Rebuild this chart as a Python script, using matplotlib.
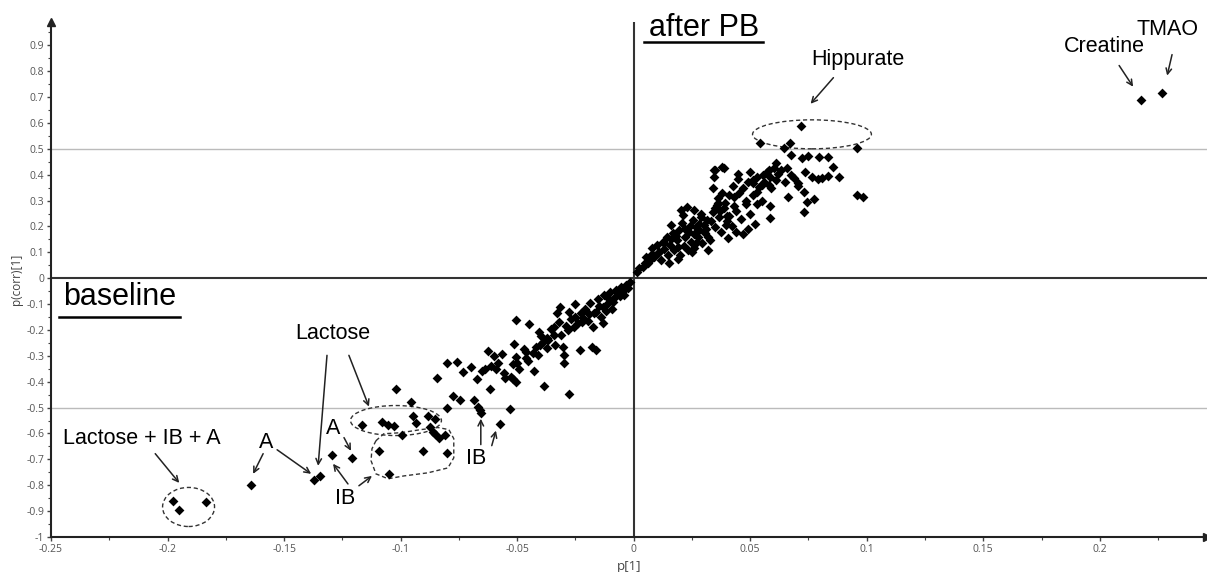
import matplotlib
matplotlib.use('Agg')
import matplotlib.pyplot as plt
from matplotlib.patches import Ellipse, Polygon
from matplotlib.ticker import MultipleLocator, FuncFormatter

# S-plot loadings: p[1] vs p(corr)[1]
p1 = [
    -0.1976, -0.195, -0.1835, -0.164, -0.137, -0.1346, -0.1294, -0.121,
    -0.1166, -0.108, -0.1054, -0.1029, -0.0994, -0.0947, -0.0934, -0.0883,
    -0.0853, -0.0874, -0.0862, -0.0853, -0.0836, -0.081,
    -0.1093, -0.0904, -0.0801, -0.105,
    -0.102, -0.0956, -0.0776, -0.0746, -0.08, -0.0686, -0.0669, -0.066,
    -0.0656, -0.0574, -0.0617, -0.0531, -0.0506,
    -0.0844, -0.0801, -0.0759, -0.0733, -0.0699, -0.0673, -0.0652, -0.0626,
    -0.0639, -0.0613, -0.06, -0.0591, -0.0583, -0.0566, -0.0557, -0.0553,
    -0.0527, -0.0519, -0.0514, -0.0506, -0.0506, -0.0501, -0.0471, -0.0463,
    -0.0454, -0.045, -0.0429, -0.042, -0.0411, -0.0407, -0.0399, -0.039,
    -0.0386, -0.0373, -0.0369, -0.0356, -0.0343, -0.0339, -0.033, -0.0321,
    -0.0317, -0.0304, -0.03, -0.03, -0.0291, -0.0279, -0.0279, -0.027,
    -0.0257, -0.0253, -0.024, -0.0231, -0.0227, -0.0219, -0.021, -0.0197,
    -0.0189, -0.018, -0.0176, -0.0171, -0.0163, -0.0154, -0.015, -0.0141,
    -0.0133, -0.0129, -0.012, -0.0111, -0.0103, -0.0094, -0.0086, -0.0077,
    -0.0069, -0.0056, -0.0043, -0.0034, -0.0026, -0.0017,
    -0.004, -0.006, -0.009, -0.011, -0.013, -0.016, -0.019, -0.022, -0.025,
    -0.028, -0.031, -0.034, -0.037, -0.04, -0.043, -0.046, -0.049, -0.052,
    0.0013, 0.0021, 0.0039, 0.0051, 0.006, 0.0069, 0.0077, 0.0086, 0.0099,
    0.0103, 0.0116, 0.0124, 0.0129, 0.0141, 0.0146, 0.0154, 0.0159, 0.0167,
    0.0171, 0.0184, 0.0189, 0.0193, 0.0201, 0.0206, 0.021, 0.0214, 0.0219,
    0.0227, 0.0231, 0.0236, 0.0244, 0.0253, 0.0257, 0.0257, 0.0266, 0.0274,
    0.0279, 0.0287, 0.0291, 0.03, 0.0304, 0.0313, 0.0321, 0.0326, 0.0339,
    0.0339, 0.0343, 0.0343, 0.0351, 0.036, 0.0364, 0.0373, 0.0381, 0.0386,
    0.0394, 0.0403,
    0.005, 0.008, 0.011, 0.013, 0.016, 0.018, 0.019, 0.022, 0.024, 0.026,
    0.028, 0.029, 0.031, 0.033, 0.035, 0.036, 0.037, 0.039, 0.041, 0.043,
    0.045, 0.047, 0.049, 0.051, 0.053, 0.055, 0.057, 0.059, 0.061, 0.063,
    0.065, 0.027, 0.032, 0.04, 0.044, 0.02, 0.015, 0.025,
    0.0544, 0.0669, 0.072, 0.0647, 0.096,
    0.0677, 0.0724, 0.0746, 0.0797, 0.0832, 0.0609, 0.0656, 0.06, 0.0857,
    0.0347, 0.0386, 0.0446, 0.0497, 0.0446, 0.051, 0.0553, 0.0579, 0.0587,
    0.0621, 0.0673, 0.069, 0.0733, 0.0763, 0.0789, 0.081, 0.0832, 0.0883,
    0.0514, 0.0536, 0.0561, 0.0579, 0.0703, 0.0707, 0.0424, 0.0531, 0.0729,
    0.0429, 0.066, 0.0742, 0.0772, 0.096, 0.0982, 0.0484, 0.0531, 0.0587,
    0.0587, 0.0729, 0.0356, 0.0411, 0.0489,
    0.044, 0.046, 0.048, 0.042, 0.05, 0.047, 0.052, 0.038, 0.040, 0.055,
    0.2177, 0.2267,
]
pcorr = [
    -0.86, -0.895, -0.864, -0.80, -0.78, -0.764, -0.682, -0.694,
    -0.566, -0.554, -0.566, -0.57, -0.605, -0.531, -0.558, -0.531,
    -0.543, -0.574, -0.593, -0.601, -0.616, -0.605,
    -0.667, -0.667, -0.674, -0.756,
    -0.43, -0.477, -0.457, -0.469, -0.5, -0.469, -0.496, -0.508,
    -0.519, -0.562, -0.43, -0.504, -0.40,
    -0.384, -0.329, -0.322, -0.364, -0.345, -0.388, -0.36, -0.283,
    -0.349, -0.341, -0.302, -0.349, -0.326, -0.291, -0.368, -0.384,
    -0.38, -0.391, -0.256, -0.163, -0.306, -0.326, -0.275, -0.287,
    -0.318, -0.178, -0.357, -0.264, -0.298, -0.209, -0.225, -0.248,
    -0.415, -0.271, -0.24, -0.198, -0.221, -0.26, -0.136, -0.171,
    -0.112, -0.267, -0.295, -0.329, -0.186, -0.446, -0.132, -0.159,
    -0.19, -0.101, -0.174, -0.279, -0.136, -0.155, -0.12, -0.167,
    -0.097, -0.267, -0.19, -0.136, -0.279, -0.081, -0.109, -0.151,
    -0.174, -0.066, -0.128, -0.097, -0.054, -0.12, -0.078, -0.047,
    -0.058, -0.035, -0.066, -0.027, -0.039, -0.016,
    -0.045, -0.07, -0.09, -0.075, -0.11, -0.13, -0.14, -0.17, -0.15,
    -0.2, -0.22, -0.19, -0.23, -0.26, -0.29, -0.31, -0.35, -0.33,
    0.023, 0.039, 0.043, 0.081, 0.058, 0.07, 0.116, 0.081, 0.128,
    0.097, 0.07, 0.14, 0.112, 0.159, 0.089, 0.128, 0.205, 0.174,
    0.108, 0.147, 0.074, 0.186, 0.264, 0.213, 0.244, 0.124, 0.159,
    0.275, 0.108, 0.178, 0.14, 0.225, 0.264, 0.116, 0.198, 0.159,
    0.186, 0.236, 0.136, 0.205, 0.174, 0.225, 0.108, 0.147, 0.256,
    0.349, 0.392, 0.419, 0.198, 0.291, 0.236, 0.178, 0.43, 0.271,
    0.205, 0.155,
    0.06, 0.095, 0.10, 0.135, 0.15, 0.165, 0.12, 0.19, 0.2, 0.17,
    0.21, 0.25, 0.19, 0.22, 0.27, 0.31, 0.26, 0.29, 0.32, 0.28,
    0.33, 0.35, 0.37, 0.32, 0.39, 0.36, 0.41, 0.35, 0.38, 0.42,
    0.37, 0.14, 0.16, 0.22, 0.18, 0.09, 0.06, 0.10,
    0.523, 0.523, 0.589, 0.504, 0.504,
    0.477, 0.465, 0.473, 0.469, 0.469, 0.446, 0.426, 0.426, 0.43,
    0.419, 0.426, 0.403, 0.411, 0.384, 0.38, 0.40, 0.419, 0.391,
    0.403, 0.40, 0.388, 0.411, 0.391, 0.384, 0.388, 0.395, 0.391,
    0.368, 0.353, 0.372, 0.36, 0.368, 0.357, 0.357, 0.333, 0.333,
    0.314, 0.314, 0.295, 0.306, 0.322, 0.314, 0.287, 0.287, 0.279,
    0.233, 0.256, 0.283, 0.24, 0.19,
    0.26, 0.23, 0.30, 0.20, 0.25, 0.17, 0.21, 0.33, 0.24, 0.30,
    0.69, 0.717,
]

x_ticks = [-0.25, -0.2, -0.15, -0.1, -0.05, 0, 0.05, 0.1, 0.15, 0.2]
y_ticks = [-1, -0.9, -0.8, -0.7, -0.6, -0.5, -0.4, -0.3, -0.2, -0.1,
           0, 0.1, 0.2, 0.3, 0.4, 0.5, 0.6, 0.7, 0.8, 0.9]

plt.rcParams['font.family'] = ['Liberation Sans', 'DejaVu Sans']

fig = plt.figure(figsize=(12.07, 5.72), dpi=100)
ax = fig.add_axes([0.0423, 0.0612, 0.9577, 0.9003])

ax.set_xlim(-0.25, 0.246)
ax.set_ylim(-1, 0.99)

# reference lines
ax.axhline(0.5, color='#bbbbbb', lw=1, zorder=1)
ax.axhline(-0.5, color='#bbbbbb', lw=1, zorder=1)
ax.axhline(0, color='#333333', lw=1.5, zorder=1)
ax.axvline(0, color='#333333', lw=1.5, zorder=1)

ax.scatter(p1, pcorr, marker='D', s=25, color='black', linewidths=0, zorder=3)

# spines / ticks
for s in ['top', 'right']:
    ax.spines[s].set_visible(False)
for s in ['left', 'bottom']:
    ax.spines[s].set_color('#222222')
    ax.spines[s].set_linewidth(1.5)
ax.plot([0], [1], marker='^', color='#222222', ms=6, transform=ax.transAxes, clip_on=False)
ax.plot([1], [0], marker='>', color='#222222', ms=6, transform=ax.transAxes, clip_on=False)

ax.set_xticks(x_ticks)
ax.set_yticks(y_ticks)
ax.xaxis.set_minor_locator(MultipleLocator(0.025))
ax.yaxis.set_minor_locator(MultipleLocator(0.05))
fmt = FuncFormatter(lambda v, _: f"{v:g}")
ax.xaxis.set_major_formatter(fmt)
ax.yaxis.set_major_formatter(fmt)
ax.tick_params(which='major', length=3, width=1, color='#444444',
               labelsize=7.5, labelcolor='#555555', pad=2)
ax.tick_params(which='minor', length=2, width=0.8, color='#444444')
for lab in ax.get_xticklabels() + ax.get_yticklabels():
    lab.set_family('Open Sans')
ax.set_xlabel('p[1]', fontsize=9.5, color='#444444', family='Open Sans', labelpad=4)
ax.set_ylabel('p(corr)[1]', fontsize=8.5, color='#444444', family='Open Sans', labelpad=2)

# big labels with underline
ax.text(0.030, 0.965, 'after PB', fontsize=22, ha='center', va='center')
ax.plot([0.0045, 0.0555], [0.912, 0.912], color='black', lw=1.8)
ax.text(-0.2207, -0.074, 'baseline', fontsize=22, ha='center', va='center')
ax.plot([-0.2465, -0.1945], [-0.148, -0.148], color='black', lw=1.8)

# dashed outlines
dash = dict(fill=False, ls=(0, (3, 2)), lw=1, ec='#333333', zorder=2)
ax.add_patch(Ellipse((-0.191, -0.884), 0.0223, 0.151, **dash))
ax.add_patch(Ellipse((0.0765, 0.556), 0.051, 0.112, **dash))
ax.add_patch(Ellipse((-0.102, -0.550), 0.039, 0.116, **dash))
ib_outline = [(-0.1106, -0.628), (-0.1072, -0.601), (-0.0999, -0.597),
              (-0.0913, -0.585), (-0.0840, -0.577), (-0.0793, -0.585),
              (-0.0772, -0.620), (-0.0772, -0.694), (-0.0797, -0.733),
              (-0.0883, -0.752), (-0.0986, -0.764), (-0.1054, -0.775),
              (-0.1106, -0.756), (-0.1127, -0.705), (-0.1123, -0.659)]
ax.add_patch(Polygon(ib_outline, closed=True, **dash))

# annotations
fs = 15.5
arrow = dict(arrowstyle='->', color='#222222', lw=1.1, shrinkA=0, shrinkB=0)

def arr(tail, head):
    ax.annotate('', xy=head, xytext=tail, arrowprops=arrow)

ax.text(0.0964, 0.845, 'Hippurate', fontsize=fs, ha='center', va='center')
arr((0.0857, 0.775), (0.0759, 0.674))
ax.text(0.2019, 0.895, 'Creatine', fontsize=fs, ha='center', va='center')
arr((0.2083, 0.822), (0.2143, 0.74))
ax.text(0.2289, 0.961, 'TMAO', fontsize=fs, ha='center', va='center')
arr((0.231, 0.864), (0.2289, 0.783))

ax.text(-0.2109, -0.62, 'Lactose + IB + A', fontsize=fs, ha='center', va='center')
arr((-0.2053, -0.678), (-0.195, -0.791))
ax.text(-0.1577, -0.636, 'A', fontsize=fs, ha='center', va='center')
arr((-0.159, -0.678), (-0.1633, -0.756))
arr((-0.153, -0.663), (-0.1384, -0.756))
ax.text(-0.1292, -0.213, 'Lactose', fontsize=fs, ha='center', va='center')
arr((-0.1316, -0.298), (-0.1354, -0.725))
arr((-0.1222, -0.298), (-0.1136, -0.496))
ax.text(-0.129, -0.581, 'A', fontsize=fs, ha='center', va='center')
arr((-0.1243, -0.616), (-0.1213, -0.667))
ax.text(-0.1239, -0.853, 'IB', fontsize=fs, ha='center', va='center')
arr((-0.1226, -0.795), (-0.129, -0.717))
arr((-0.1179, -0.802), (-0.1123, -0.764))
ax.text(-0.0677, -0.698, 'IB', fontsize=fs, ha='center', va='center')
arr((-0.0656, -0.643), (-0.0656, -0.543))
arr((-0.0609, -0.647), (-0.0591, -0.589))

fig.savefig('out.png', dpi=100)
